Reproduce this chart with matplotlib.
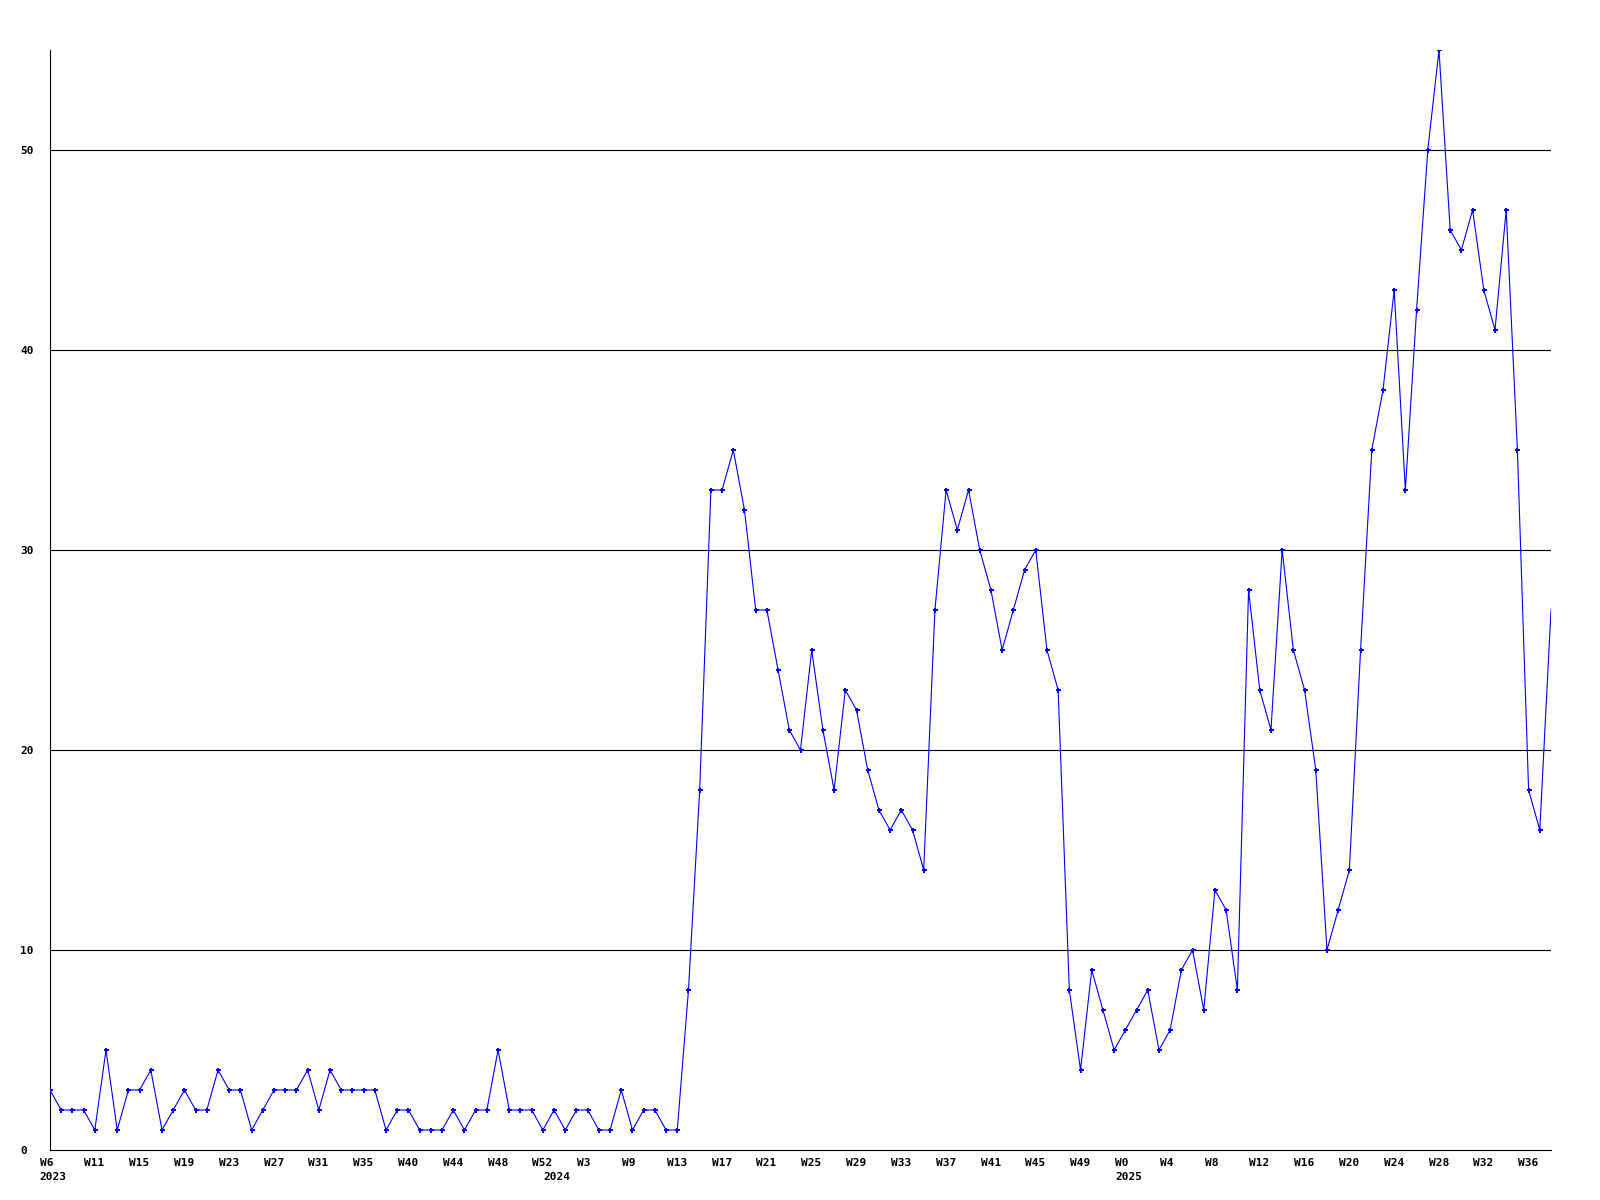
import matplotlib
matplotlib.use("Agg")
import matplotlib.pyplot as plt

# weekly counts, one per week, first point is W6 2023
values = [3, 2, 2, 2, 1, 5, 1, 3, 3, 4,
          1, 2, 3, 2, 2, 4, 3, 3, 1, 2,
          3, 3, 3, 4, 2, 4, 3, 3, 3, 3,
          1, 2, 2, 1, 1, 1, 2, 1, 2, 2,
          5, 2, 2, 2, 1, 2, 1, 2, 2, 1,
          1, 3, 1, 2, 2, 1, 1, 8, 18, 33,
          33, 35, 32, 27, 27, 24, 21, 20, 25, 21,
          18, 23, 22, 19, 17, 16, 17, 16, 14, 27,
          33, 31, 33, 30, 28, 25, 27, 29, 30, 25,
          23, 8, 4, 9, 7, 5, 6, 7, 8, 5,
          6, 9, 10, 7, 13, 12, 8, 28, 23, 21,
          30, 25, 23, 19, 10, 12, 14, 25, 35, 38,
          43, 33, 42, 50, 55, 46, 45, 47, 43, 41,
          47, 35, 18, 16, 27]

week_labels = ["W6", "W11", "W15", "W19", "W23", "W27", "W31", "W35", "W40",
               "W44", "W48", "W52", "W3", "W9", "W13", "W17", "W21", "W25",
               "W29", "W33", "W37", "W41", "W45", "W49", "W0", "W4", "W8",
               "W12", "W16", "W20", "W24", "W28", "W32", "W36"]
label_step = 4

years = ["2023", "2024", "2025"]
year_index = [0, 45, 96]

y_ticks = [0, 10, 20, 30, 40, 50]

font = {"family": "DejaVu Sans Mono", "weight": "bold", "size": 8}

fig = plt.figure(figsize=(16, 12), dpi=100)
ax = fig.add_axes([50 / 1600, 50 / 1200, 1501 / 1600, 1100 / 1200])

x = list(range(len(values)))
# last week is still running, so no marker on it
ax.plot(x, values, color="#0000ff", linewidth=0.8, marker="P",
        markersize=3.6, markeredgewidth=0, zorder=3,
        markevery=list(range(len(values) - 1)))

ax.set_xlim(0, len(values) - 1)
ax.set_ylim(0, 55)

for s in ["top", "right"]:
    ax.spines[s].set_visible(False)
for s in ["left", "bottom"]:
    ax.spines[s].set_linewidth(0.8)
    ax.spines[s].set_color("black")

# horizontal grid lines
for v in y_ticks[1:]:
    ax.axhline(v, color="black", linewidth=0.8, zorder=1)

ax.set_yticks(y_ticks)
ax.set_yticklabels([str(v) for v in y_ticks], fontdict=font)
ax.tick_params(axis="y", length=0, pad=21.6)
for lab in ax.get_yticklabels():
    lab.set_ha("left")

ax.set_xticks([])
for k, lab in enumerate(week_labels):
    ax.annotate(lab, xy=(k * label_step, 0), xycoords=("data", "axes fraction"),
                xytext=(-7.5, -5.5), textcoords="offset points",
                ha="left", va="top", **font)

for yr, idx in zip(years, year_index):
    ax.annotate(yr, xy=(idx, 0), xycoords=("data", "axes fraction"),
                xytext=(-7.5, -16), textcoords="offset points",
                ha="left", va="top", **font)

plt.savefig("out.png", dpi=100)
